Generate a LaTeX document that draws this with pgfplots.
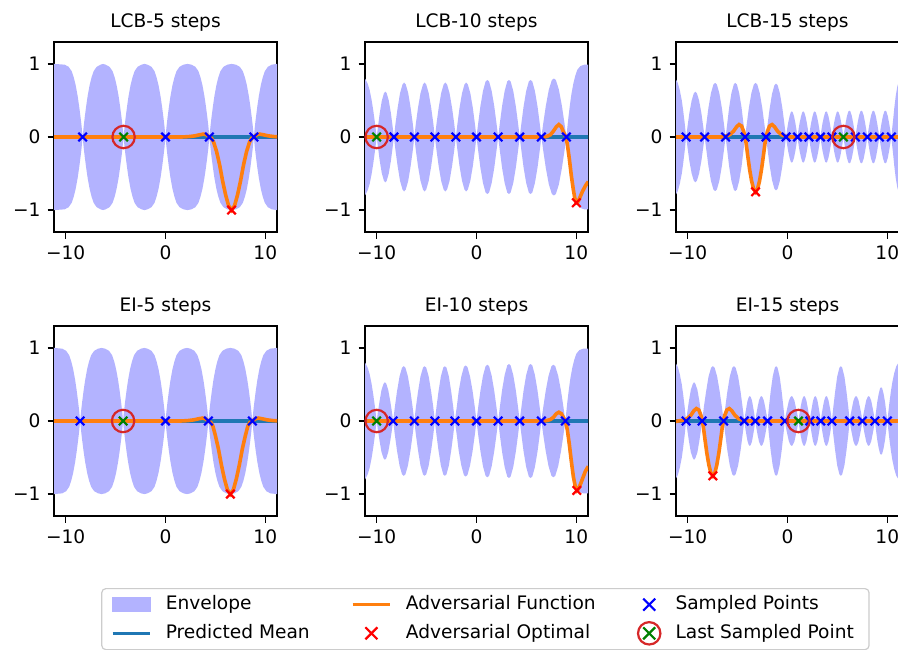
\documentclass[border=0pt]{standalone}
\usepackage{fontspec}
\setmainfont{DejaVu Sans}
\usepackage{pgfplots}
\usepackage{pgfplotstable}
\pgfplotsset{compat=1.18}

\definecolor{envcol}{HTML}{B3B3FF}
\definecolor{c0}{HTML}{1F77B4}
\definecolor{c1}{HTML}{FF7F0E}
\definecolor{c3}{HTML}{D62728}
\definecolor{gx}{HTML}{008000}
\newcommand{\ff}{\fontsize{9.3}{11}\selectfont}

% envelope half-widths (x, std)
\pgfplotstableread{
x s
-11.17 1.0
-10.1 0.99
-9.7 0.96
-9.4 0.90
-9.2 0.82
-9.0 0.71
-8.8 0.56
-8.65 0.42
-8.5 0.26
-8.4 0.14
-8.3 0
-8.2 0.14
-8.1 0.26
-7.95 0.42
-7.8 0.56
-7.6 0.71
-7.4 0.82
-7.2 0.90
-6.9 0.96
-6.5 0.99
-6.25 1.0
-6.0 0.99
-5.6 0.96
-5.3 0.90
-5.1 0.82
-4.9 0.71
-4.7 0.56
-4.55 0.42
-4.4 0.26
-4.3 0.14
-4.2 0
-4.1 0.14
-4.0 0.26
-3.85 0.42
-3.7 0.56
-3.5 0.71
-3.3 0.82
-3.1 0.90
-2.8 0.96
-2.4 0.99
-2.1 1.0
-1.8 0.99
-1.4 0.96
-1.1 0.90
-0.9 0.82
-0.7 0.71
-0.5 0.56
-0.35 0.42
-0.2 0.26
-0.1 0.14
0 0
0.1 0.14
0.2 0.26
0.35 0.42
0.5 0.56
0.7 0.71
0.9 0.82
1.1 0.90
1.4 0.96
1.8 0.99
2.2 1.0
2.6 0.99
3.0 0.96
3.3 0.90
3.5 0.82
3.7 0.71
3.9 0.56
4.05 0.42
4.2 0.26
4.3 0.14
4.4 0
4.5 0.14
4.6 0.26
4.75 0.42
4.9 0.56
5.1 0.71
5.3 0.82
5.5 0.90
5.8 0.96
6.2 0.99
6.62 1.0
7.05 0.99
7.45 0.96
7.75 0.90
7.95 0.82
8.15 0.71
8.35 0.56
8.5 0.42
8.65 0.26
8.75 0.14
8.85 0
8.95 0.14
9.05 0.26
9.2 0.42
9.35 0.56
9.55 0.71
9.75 0.82
9.95 0.90
10.25 0.96
10.65 0.99
11.17 1.0
}\envA

\pgfplotstableread{
x s
-11.17 1.0
-10.35 0.99
-9.95 0.96
-9.65 0.90
-9.45 0.82
-9.25 0.71
-9.05 0.56
-8.9 0.42
-8.75 0.26
-8.65 0.14
-8.55 0
-8.45 0.14
-8.35 0.26
-8.2 0.42
-8.05 0.56
-7.85 0.71
-7.65 0.82
-7.45 0.90
-7.15 0.96
-6.75 0.99
-6.4 1.0
-6.05 0.99
-5.65 0.96
-5.35 0.90
-5.15 0.82
-4.95 0.71
-4.75 0.56
-4.6 0.42
-4.45 0.26
-4.35 0.14
-4.25 0
-4.15 0.14
-4.05 0.26
-3.9 0.42
-3.75 0.56
-3.55 0.71
-3.35 0.82
-3.15 0.90
-2.85 0.96
-2.45 0.99
-2.125 1.0
-1.8 0.99
-1.4 0.96
-1.1 0.90
-0.9 0.82
-0.7 0.71
-0.5 0.56
-0.35 0.42
-0.2 0.26
-0.1 0.14
0 0
0.1 0.14
0.2 0.26
0.35 0.42
0.5 0.56
0.7 0.71
0.9 0.82
1.1 0.90
1.4 0.96
1.8 0.99
2.15 1.0
2.5 0.99
2.9 0.96
3.2 0.90
3.4 0.82
3.6 0.71
3.8 0.56
3.95 0.42
4.1 0.26
4.2 0.14
4.3 0
4.4 0.14
4.5 0.26
4.65 0.42
4.8 0.56
5.0 0.71
5.2 0.82
5.4 0.90
5.7 0.96
6.1 0.99
6.5 1.0
6.9 0.99
7.3 0.96
7.6 0.90
7.8 0.82
8.0 0.71
8.2 0.56
8.35 0.42
8.5 0.26
8.6 0.14
8.7 0
8.8 0.14
8.9 0.26
9.05 0.42
9.2 0.56
9.4 0.71
9.6 0.82
9.8 0.90
10.1 0.96
10.5 0.99
11.17 1.0
}\envD

\pgfplotstableread{
x s
-11.17 0.80
-10.9 0.73
-10.7 0.64
-10.5 0.50
-10.35 0.37
-10.2 0.22
-10.1 0.11
-10.0 0
-9.86 0.15
-9.69 0.33
-9.48 0.50
-9.27 0.60
-9.14 0.62
-9.00 0.60
-8.79 0.50
-8.58 0.33
-8.41 0.15
-8.27 0
-8.11 0.19
-7.90 0.40
-7.66 0.60
-7.41 0.72
-7.25 0.745
-7.09 0.72
-6.84 0.60
-6.60 0.40
-6.39 0.19
-6.23 0
-6.07 0.19
-5.86 0.40
-5.61 0.60
-5.36 0.72
-5.20 0.745
-5.04 0.72
-4.79 0.60
-4.54 0.40
-4.33 0.19
-4.17 0
-4.00 0.19
-3.79 0.40
-3.54 0.60
-3.29 0.72
-3.12 0.745
-2.95 0.72
-2.70 0.60
-2.45 0.40
-2.24 0.19
-2.07 0
-1.90 0.19
-1.70 0.40
-1.45 0.60
-1.20 0.72
-1.04 0.745
-0.87 0.72
-0.62 0.60
-0.37 0.40
-0.17 0.19
0 0
0.17 0.19
0.39 0.42
0.65 0.63
0.91 0.76
1.09 0.78
1.26 0.76
1.52 0.63
1.78 0.42
2.00 0.19
2.17 0
2.34 0.19
2.56 0.42
2.82 0.63
3.08 0.76
3.25 0.78
3.42 0.76
3.68 0.63
3.94 0.42
4.16 0.19
4.33 0
4.50 0.19
4.72 0.42
4.98 0.63
5.24 0.76
5.42 0.78
5.59 0.76
5.85 0.63
6.11 0.42
6.33 0.19
6.5 0
6.70 0.20
6.95 0.43
7.25 0.65
7.55 0.78
7.75 0.80
7.95 0.78
8.25 0.65
8.55 0.43
8.80 0.20
9.0 0
9.1 0.13
9.2 0.26
9.35 0.43
9.5 0.58
9.7 0.73
9.9 0.84
10.1 0.92
10.4 0.97
10.8 0.99
11.17 0.99
}\envB

\pgfplotstableread{
x s
-11.17 0.80
-10.9 0.73
-10.7 0.64
-10.5 0.50
-10.35 0.37
-10.2 0.22
-10.1 0.11
-10.0 0
-9.87 0.13
-9.70 0.28
-9.51 0.43
-9.31 0.51
-9.18 0.53
-9.04 0.51
-8.85 0.43
-8.65 0.28
-8.48 0.13
-8.35 0
-8.18 0.19
-7.97 0.40
-7.71 0.61
-7.46 0.73
-7.29 0.75
-7.12 0.73
-6.87 0.61
-6.61 0.40
-6.40 0.19
-6.23 0
-6.07 0.19
-5.86 0.40
-5.61 0.61
-5.36 0.73
-5.20 0.75
-5.04 0.73
-4.79 0.61
-4.54 0.40
-4.33 0.19
-4.17 0
-4.01 0.19
-3.81 0.40
-3.57 0.61
-3.33 0.73
-3.17 0.75
-3.01 0.73
-2.77 0.61
-2.53 0.40
-2.33 0.19
-2.17 0
-1.98 0.19
-1.78 0.41
-1.52 0.61
-1.26 0.74
-1.09 0.76
-0.91 0.74
-0.65 0.61
-0.39 0.41
-0.17 0.19
0 0
0.17 0.19
0.39 0.41
0.65 0.62
0.91 0.75
1.09 0.77
1.26 0.75
1.52 0.62
1.78 0.41
2.00 0.19
2.17 0
2.34 0.19
2.56 0.42
2.82 0.63
3.08 0.76
3.25 0.78
3.42 0.76
3.68 0.63
3.94 0.42
4.16 0.19
4.33 0
4.50 0.19
4.72 0.42
4.98 0.63
5.24 0.76
5.42 0.78
5.59 0.76
5.85 0.63
6.11 0.42
6.33 0.19
6.5 0
6.69 0.19
6.93 0.41
7.22 0.62
7.51 0.75
7.70 0.77
7.89 0.75
8.18 0.62
8.47 0.41
8.71 0.19
8.9 0
9.0 0.13
9.1 0.26
9.25 0.43
9.4 0.58
9.6 0.73
9.8 0.84
10.0 0.92
10.3 0.97
10.7 0.99
11.17 0.99
}\envE

\pgfplotstableread{
x s
-11.23 0.80
-10.99 0.74
-10.79 0.64
-10.59 0.50
-10.45 0.36
-10.30 0.19
-10.22 0.08
-10.16 0
-10.01 0.15
-9.83 0.33
-9.60 0.50
-9.38 0.60
-9.23 0.62
-9.08 0.60
-8.86 0.50
-8.63 0.33
-8.45 0.15
-8.3 0
-8.13 0.18
-7.92 0.40
-7.67 0.60
-7.42 0.72
-7.25 0.74
-7.08 0.72
-6.83 0.60
-6.58 0.40
-6.37 0.18
-6.2 0
-6.04 0.18
-5.85 0.40
-5.62 0.60
-5.38 0.72
-5.23 0.74
-5.07 0.72
-4.84 0.60
-4.60 0.40
-4.41 0.18
-4.25 0
-4.08 0.18
-3.87 0.40
-3.62 0.60
-3.37 0.72
-3.20 0.74
-3.03 0.72
-2.78 0.60
-2.53 0.40
-2.32 0.18
-2.15 0
-1.99 0.18
-1.79 0.39
-1.55 0.59
-1.31 0.71
-1.15 0.73
-0.99 0.71
-0.75 0.59
-0.51 0.39
-0.31 0.18
-0.15 0
-0.06 0.09
0.06 0.19
0.20 0.28
0.33 0.34
0.43 0.35
0.52 0.34
0.66 0.28
0.79 0.19
0.91 0.09
1.0 0
1.09 0.09
1.21 0.19
1.35 0.28
1.48 0.34
1.58 0.35
1.67 0.34
1.81 0.28
1.94 0.19
2.06 0.09
2.15 0
2.24 0.09
2.36 0.19
2.50 0.28
2.63 0.34
2.73 0.35
2.82 0.34
2.96 0.28
3.09 0.19
3.21 0.09
3.3 0
3.39 0.09
3.51 0.19
3.65 0.28
3.78 0.34
3.88 0.35
3.97 0.34
4.11 0.28
4.24 0.19
4.36 0.09
4.45 0
4.54 0.09
4.66 0.19
4.80 0.28
4.93 0.34
5.03 0.35
5.12 0.34
5.26 0.28
5.39 0.19
5.51 0.09
5.6 0
5.70 0.09
5.82 0.19
5.96 0.29
6.10 0.35
6.20 0.36
6.30 0.35
6.44 0.29
6.58 0.19
6.70 0.09
6.8 0
6.90 0.09
7.02 0.19
7.16 0.29
7.30 0.35
7.40 0.36
7.50 0.35
7.64 0.29
7.78 0.19
7.90 0.09
8.0 0
8.10 0.09
8.22 0.19
8.36 0.29
8.50 0.35
8.60 0.36
8.70 0.35
8.84 0.29
8.98 0.19
9.10 0.09
9.2 0
9.30 0.09
9.42 0.19
9.56 0.29
9.70 0.35
9.80 0.36
9.90 0.35
10.04 0.29
10.18 0.19
10.30 0.09
10.4 0
10.48 0.11
10.57 0.22
10.7 0.40
10.85 0.57
11.0 0.69
11.23 0.80
}\envC

\pgfplotstableread{
x s
-11.23 0.80
-10.99 0.74
-10.79 0.64
-10.59 0.50
-10.45 0.36
-10.30 0.19
-10.22 0.08
-10.16 0
-10.03 0.13
-9.87 0.28
-9.68 0.43
-9.48 0.51
-9.36 0.53
-9.23 0.51
-9.03 0.43
-8.84 0.28
-8.68 0.13
-8.55 0
-8.38 0.19
-8.16 0.40
-7.91 0.61
-7.65 0.73
-7.48 0.75
-7.30 0.73
-7.05 0.61
-6.79 0.40
-6.57 0.19
-6.4 0
-6.23 0.19
-6.03 0.40
-5.78 0.61
-5.53 0.73
-5.37 0.75
-5.20 0.73
-4.95 0.61
-4.70 0.40
-4.50 0.19
-4.33 0
-4.24 0.09
-4.13 0.18
-4.00 0.28
-3.87 0.33
-3.78 0.34
-3.69 0.33
-3.56 0.28
-3.43 0.18
-3.32 0.09
-3.23 0
-3.13 0.09
-3.01 0.18
-2.86 0.28
-2.71 0.33
-2.62 0.34
-2.52 0.33
-2.37 0.28
-2.22 0.18
-2.10 0.09
-2.0 0
-1.86 0.19
-1.69 0.40
-1.48 0.61
-1.27 0.73
-1.14 0.75
-1.00 0.73
-0.79 0.61
-0.58 0.40
-0.41 0.19
-0.27 0
-0.16 0.09
-0.02 0.18
0.14 0.28
0.31 0.33
0.42 0.34
0.52 0.33
0.69 0.28
0.85 0.18
0.99 0.09
1.1 0
1.19 0.09
1.30 0.18
1.44 0.28
1.57 0.33
1.67 0.34
1.76 0.33
1.89 0.28
2.03 0.18
2.14 0.09
2.23 0
2.32 0.09
2.43 0.18
2.56 0.28
2.69 0.33
2.78 0.34
2.87 0.33
3.00 0.28
3.13 0.18
3.24 0.09
3.33 0
3.42 0.09
3.53 0.18
3.67 0.28
3.80 0.33
3.89 0.34
3.98 0.33
4.11 0.28
4.25 0.18
4.36 0.09
4.45 0
4.59 0.19
4.77 0.40
4.98 0.61
5.20 0.73
5.34 0.75
5.48 0.73
5.70 0.61
5.91 0.40
6.09 0.19
6.23 0
6.33 0.09
6.46 0.18
6.61 0.28
6.76 0.33
6.87 0.34
6.97 0.33
7.12 0.28
7.27 0.18
7.40 0.09
7.5 0
7.60 0.09
7.73 0.18
7.88 0.28
8.03 0.33
8.13 0.34
8.23 0.33
8.38 0.28
8.53 0.18
8.65 0.09
8.75 0
8.85 0.11
8.98 0.25
9.13 0.37
9.28 0.45
9.38 0.46
9.48 0.45
9.63 0.37
9.78 0.25
9.90 0.11
10.0 0
10.1 0.12
10.2 0.24
10.35 0.40
10.5 0.53
10.7 0.66
10.9 0.75
11.23 0.82
}\envF

\newcommand{\envelope}[1]{%
  \addplot[envfill] table[x=x,y=s]{#1} \closedcycle;
  \addplot[envfill] table[x=x,y expr=-\thisrow{s}]{#1} \closedcycle;
  \addplot[meanl] coordinates {(-12,0) (12,0)};
}

\pgfplotsset{
  panel/.style={
    scale only axis, width=111.5pt, height=95pt, anchor=south west,
    xmin=-11.17, xmax=11.17, ymin=-1.3, ymax=1.3,
    xtick={-10,0,10}, xticklabels={−10,0,10},
    ytick={-1,0,1}, yticklabels={−1,0,1},
    xtick pos=left, ytick pos=left,
    tick align=outside, major tick length=3.25pt,
    tick style={black, line width=0.75pt},
    axis line style={line width=0.75pt},
    ticklabel style={font=\ff},
    title style={at={(0.5,1)}, anchor=base, yshift=1.3pt, font=\ff, inner sep=0pt},
  },
  envfill/.style={fill=envcol, draw=none, forget plot},
  meanl/.style={c0, line width=1.8pt, forget plot},
  advl/.style={c1, line width=1.8pt, forget plot},
  samp/.style={only marks, mark=x, mark size=3pt, blue, line width=1.1pt, forget plot},
  optm/.style={only marks, mark=x, mark size=3pt, red, line width=1.1pt, forget plot},
  lastx/.style={only marks, mark=x, mark size=3pt, gx, line width=1.1pt, forget plot},
  lastc/.style={only marks, mark=o, mark size=5.6pt, c3, line width=1.1pt, forget plot},
}

\begin{document}
\begin{tikzpicture}
\path[use as bounding box] (0,0) rectangle (449pt,324.5pt);

% ---- LCB-5
\begin{axis}[panel, at={(27pt,208.5pt)}, title={LCB-5 steps}]
  \envelope{\envA}
  \addplot[advl] coordinates {(-11.2,0) (1.62,0) (2.32,0.005) (2.92,0.015) (3.42,0.03) (3.82,0.04) (4.12,0.03) (4.37,0) (4.62,-0.02) (4.82,-0.07) (5.12,-0.2) (5.42,-0.38) (5.72,-0.6) (6.02,-0.79) (6.32,-0.94) (6.62,-1.0) (6.92,-0.94) (7.22,-0.79) (7.52,-0.6) (7.82,-0.38) (8.12,-0.2) (8.42,-0.07) (8.62,-0.02) (8.87,0) (9.12,0.03) (9.42,0.04) (9.82,0.03) (10.32,0.015) (10.92,0.005) (11.2,0.003)};
  \addplot[samp] coordinates {(-8.3,0) (0,0) (4.4,0) (8.85,0)};
  \addplot[optm] coordinates {(6.62,-1.0)};
  \addplot[lastx] coordinates {(-4.2,0)};
  \addplot[lastc] coordinates {(-4.2,0)};
\end{axis}

% ---- LCB-10
\begin{axis}[panel, at={(182.5pt,208.5pt)}, title={LCB-10 steps}]
  \envelope{\envB}
  \addplot[advl] coordinates {(-11.2,0) (6.6,0) (7.0,0.005) (7.4,0.03) (7.7,0.08) (8.0,0.14) (8.25,0.17) (8.5,0.14) (8.7,0.07) (8.95,0) (9.1,-0.1) (9.3,-0.3) (9.5,-0.53) (9.7,-0.72) (9.85,-0.84) (10.0,-0.9) (10.15,-0.89) (10.35,-0.83) (10.6,-0.75) (10.9,-0.67) (11.2,-0.61)};
  \addplot[samp] coordinates {(-8.27,0) (-6.23,0) (-4.17,0) (-2.07,0) (0,0) (2.17,0) (4.33,0) (6.5,0) (9.0,0)};
  \addplot[optm] coordinates {(10.0,-0.9)};
  \addplot[lastx] coordinates {(-10,0)};
  \addplot[lastc] coordinates {(-10,0)};
\end{axis}

% ---- LCB-15
\begin{axis}[panel, at={(338pt,208.5pt)}, title={LCB-15 steps}]
  \envelope{\envC}
  \addplot[advl] coordinates {(-11.3,0) (-6.7,0) (-6.2,0.01) (-5.8,0.03) (-5.4,0.08) (-5.1,0.14) (-4.85,0.17) (-4.6,0.15) (-4.4,0.08) (-4.25,0) (-4.15,-0.08) (-4.0,-0.24) (-3.8,-0.44) (-3.6,-0.6) (-3.4,-0.71) (-3.2,-0.75) (-3.0,-0.71) (-2.8,-0.6) (-2.6,-0.44) (-2.4,-0.24) (-2.25,-0.08) (-2.15,0) (-2.0,0.08) (-1.8,0.15) (-1.55,0.17) (-1.3,0.14) (-1.0,0.08) (-0.6,0.03) (-0.2,0.01) (0.3,0) (11.3,0)};
  \addplot[samp] coordinates {(-10.16,0) (-8.3,0) (-6.2,0) (-4.25,0) (-2.15,0) (-0.15,0) (1.0,0) (2.15,0) (3.3,0) (4.45,0) (6.8,0) (8.0,0) (9.2,0) (10.4,0)};
  \addplot[optm] coordinates {(-3.2,-0.75)};
  \addplot[lastx] coordinates {(5.6,0)};
  \addplot[lastc] coordinates {(5.6,0)};
\end{axis}

% ---- EI-5
\begin{axis}[panel, at={(27pt,66.5pt)}, title={EI-5 steps}]
  \envelope{\envD}
  \addplot[advl] coordinates {(-11.2,0) (1.5,0) (2.2,0.005) (2.8,0.015) (3.3,0.03) (3.7,0.04) (4.0,0.03) (4.3,0) (4.55,-0.02) (4.75,-0.07) (5.0,-0.2) (5.3,-0.38) (5.6,-0.6) (5.9,-0.79) (6.2,-0.94) (6.5,-1.0) (6.8,-0.94) (7.1,-0.79) (7.4,-0.6) (7.7,-0.38) (8.0,-0.2) (8.25,-0.07) (8.45,-0.02) (8.7,0) (9.0,0.03) (9.3,0.04) (9.7,0.03) (10.2,0.015) (10.8,0.005) (11.2,0.003)};
  \addplot[samp] coordinates {(-8.55,0) (0,0) (4.3,0) (8.7,0)};
  \addplot[optm] coordinates {(6.5,-1.0)};
  \addplot[lastx] coordinates {(-4.25,0)};
  \addplot[lastc] coordinates {(-4.25,0)};
\end{axis}

% ---- EI-10 (carries the legend)
\begin{axis}[panel, at={(182.5pt,66.5pt)}, title={EI-10 steps},
  legend columns=3,
  legend cell align=left,
  legend style={at={(0.540,-0.379)}, anchor=north, draw=black!20, line width=0.6pt,
    rounded corners=2pt, font=\ff, inner xsep=4.5pt, inner ysep=2pt, row sep=2.2pt,
    nodes={inner xsep=3.1pt, inner ysep=1pt, text height=0.76em, text depth=0.24em},
    /tikz/every odd column/.append style={column sep=3.9pt},
    /tikz/every even column/.append style={column sep=17.5pt}},
]
  \envelope{\envE}
  \addplot[advl] coordinates {(-11.2,0) (6.6,0) (7.0,0.005) (7.4,0.02) (7.7,0.05) (8.0,0.1) (8.25,0.12) (8.5,0.1) (8.7,0.05) (8.9,0) (9.1,-0.12) (9.3,-0.32) (9.5,-0.55) (9.7,-0.76) (9.9,-0.9) (10.05,-0.95) (10.2,-0.93) (10.4,-0.87) (10.65,-0.78) (10.9,-0.69) (11.2,-0.62)};
  \addplot[samp] coordinates {(-8.35,0) (-6.23,0) (-4.17,0) (-2.17,0) (0,0) (2.17,0) (4.33,0) (6.5,0) (8.9,0)};
  \addplot[optm] coordinates {(10.05,-0.95)};
  \addplot[lastx] coordinates {(-10,0)};
  \addplot[lastc] coordinates {(-10,0)};

  \addlegendimage{legend image code/.code={\fill[envcol, rounded corners=0pt] (0pt,-3.3pt) rectangle (18.7pt,3.3pt);}}
  \addlegendentry{Envelope}
  \addlegendimage{legend image code/.code={\draw[c1, line width=1.8pt] (0pt,0pt) -- (18.7pt,0pt);}}
  \addlegendentry{Adversarial Function}
  \addlegendimage{legend image code/.code={\draw[blue, line width=1.1pt] (9.35pt,0pt) +(-3pt,-3pt) -- +(3pt,3pt) +(-3pt,3pt) -- +(3pt,-3pt);}}
  \addlegendentry{Sampled Points}
  \addlegendimage{legend image code/.code={\draw[c0, line width=1.8pt] (0pt,0pt) -- (18.7pt,0pt);}}
  \addlegendentry{Predicted Mean}
  \addlegendimage{legend image code/.code={\draw[red, line width=1.1pt] (9.35pt,0pt) +(-3pt,-3pt) -- +(3pt,3pt) +(-3pt,3pt) -- +(3pt,-3pt);}}
  \addlegendentry{Adversarial Optimal}
  \addlegendimage{legend image code/.code={\draw[gx, line width=1.1pt] (9.35pt,0pt) +(-3pt,-3pt) -- +(3pt,3pt) +(-3pt,3pt) -- +(3pt,-3pt); \draw[c3, line width=1.1pt] (9.35pt,0pt) circle (5.6pt);}}
  \addlegendentry{Last Sampled Point}
\end{axis}

% ---- EI-15
\begin{axis}[panel, at={(338pt,66.5pt)}, title={EI-15 steps}]
  \envelope{\envF}
  \addplot[advl] coordinates {(-11.3,-0.01) (-10.98,0) (-10.48,0.01) (-10.08,0.03) (-9.68,0.08) (-9.38,0.14) (-9.13,0.17) (-8.88,0.15) (-8.68,0.08) (-8.53,0) (-8.43,-0.08) (-8.28,-0.24) (-8.08,-0.44) (-7.88,-0.6) (-7.68,-0.71) (-7.48,-0.75) (-7.28,-0.71) (-7.08,-0.6) (-6.88,-0.44) (-6.68,-0.24) (-6.53,-0.08) (-6.43,0) (-6.28,0.08) (-6.08,0.15) (-5.83,0.17) (-5.58,0.14) (-5.28,0.08) (-4.88,0.03) (-4.48,0.01) (-3.98,0) (11.3,0)};
  \addplot[samp] coordinates {(-10.16,0) (-8.55,0) (-6.4,0) (-4.33,0) (-3.23,0) (-2.0,0) (-0.27,0) (2.23,0) (3.33,0) (4.45,0) (6.23,0) (7.5,0) (8.75,0) (10.0,0)};
  \addplot[optm] coordinates {(-7.48,-0.75)};
  \addplot[lastx] coordinates {(1.1,0)};
  \addplot[lastc] coordinates {(1.1,0)};
\end{axis}
\end{tikzpicture}
\end{document}
